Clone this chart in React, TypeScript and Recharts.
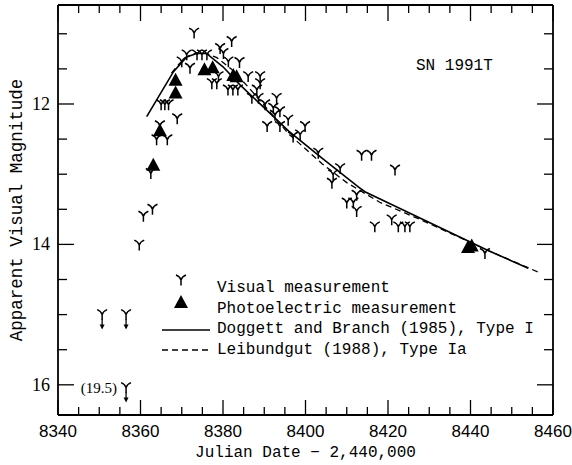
import React from "react";
import { ComposedChart, Line, Scatter, XAxis, YAxis, Legend, Label } from "recharts";

const MONO = '"Liberation Mono", "DejaVu Sans Mono", monospace';
const SERIF = '"Liberation Serif", "DejaVu Serif", serif';
const SANS = '"Liberation Sans", Arial, sans-serif';

// JD - 2,440,000 vs. apparent visual magnitude
const visualObs: [number, number][] = [
  [8359.7, 14.01], [8360.7, 13.6], [8362.9, 13.5], [8362.5, 12.99], [8363.9, 12.51],
  [8366.5, 12.51], [8364.7, 12.31], [8368.9, 12.21], [8365.0, 12.01], [8365.9, 12.01],
  [8366.8, 12.01], [8373.0, 10.99], [8371.2, 11.3], [8370.0, 11.4], [8372.0, 11.49],
  [8373.7, 11.3], [8374.9, 11.3], [8376.1, 11.3], [8377.3, 11.71], [8378.5, 11.71],
  [8378.9, 11.61], [8379.3, 11.21], [8380.1, 11.28], [8382.1, 11.11], [8381.3, 11.4],
  [8384.0, 11.41], [8381.2, 11.8], [8382.4, 11.8], [8383.6, 11.8], [8386.1, 11.61],
  [8389.0, 11.61], [8389.0, 11.71], [8388.2, 11.8], [8387.0, 11.92], [8388.6, 11.92],
  [8393.0, 11.92], [8390.2, 12.01], [8392.2, 12.06], [8393.8, 12.11], [8392.6, 12.16],
  [8395.8, 12.23], [8390.7, 12.32], [8393.8, 12.32], [8399.9, 12.32], [8397.0, 12.47],
  [8398.7, 12.44], [8403.1, 12.7], [8408.4, 12.92], [8406.7, 13.01], [8406.4, 13.13],
  [8413.6, 12.73], [8416.0, 12.73], [8412.4, 13.3], [8410.0, 13.41], [8411.6, 13.41],
  [8412.4, 13.53], [8421.7, 12.94], [8416.8, 13.75], [8420.9, 13.65], [8422.5, 13.75],
  [8424.1, 13.75], [8425.3, 13.75], [8443.5, 14.13],
];

// upper limits (drawn with arrows); last one is really 19.5
const limitObs: [number, number, string][] = [
  [8350.7, 15.0, ""],
  [8356.5, 15.0, ""],
  [8356.5, 16.04, "(19.5)"],
];

const photoObs: [number, number][] = [
  [8363.1, 12.88], [8364.7, 12.39], [8368.5, 11.85], [8368.5, 11.67], [8375.5, 11.52],
  [8377.5, 11.49], [8382.5, 11.6], [8383.3, 11.62], [8439.4, 14.05], [8440.3, 14.03],
];

// Doggett and Branch (1985), Type I
const doggettCurve: [number, number][] = [
  [8361.5, 12.18], [8368, 11.54], [8371.2, 11.33], [8373.6, 11.28], [8376, 11.28],
  [8380, 11.47], [8384, 11.72], [8396, 12.39], [8404, 12.77], [8412.8, 13.18],
  [8414.4, 13.25], [8444, 14.08], [8454, 14.34],
];

// Leibundgut (1988), Type Ia
const leibundgutCurve: [number, number][] = [
  [8367.5, 11.56], [8369.5, 11.42], [8371.5, 11.32], [8373.5, 11.27], [8376, 11.28],
  [8378.5, 11.34], [8382, 11.5], [8386, 11.75], [8396, 12.43], [8404, 12.85],
  [8410, 13.12], [8418, 13.4], [8428, 13.65], [8444, 14.08], [8457, 14.41],
];

const xTicks = [
  8340, 8345, 8350, 8355, 8360, 8365, 8370, 8375, 8380, 8385, 8390, 8395, 8400,
  8405, 8410, 8415, 8420, 8425, 8430, 8435, 8440, 8445, 8450, 8455, 8460,
];
const yTicks = [11, 11.5, 12, 12.5, 13, 13.5, 14, 14.5, 15, 15.5, 16];

const toPts = (arr: [number, number][]) => arr.map(([x, m]) => ({ x, m }));

function VisMark({ cx, cy }: { cx: number; cy: number }) {
  return (
    <path
      d={`M${cx - 5},${cy - 5} Q${cx - 1},${cy - 3.5} ${cx},${cy} Q${cx + 1},${cy - 3.5} ${cx + 5},${cy - 5} M${cx},${cy} L${cx},${cy + 5.5}`}
      fill="none"
      stroke="#000"
      strokeWidth={1.5}
    />
  );
}

function LimitMark({ cx, cy, note }: { cx: number; cy: number; note?: string }) {
  return (
    <g>
      <VisMark cx={cx} cy={cy} />
      <line x1={cx} x2={cx} y1={cy + 5} y2={cy + 12} stroke="#000" strokeWidth={1.3} />
      <polygon points={`${cx - 2.5},${cy + 10} ${cx + 2.5},${cy + 10} ${cx},${cy + 15}`} fill="#000" />
      {note ? (
        <text x={cx - 9} y={cy} textAnchor="end" dominantBaseline="central" fontFamily={SERIF} fontSize={15}>
          {note}
        </text>
      ) : null}
    </g>
  );
}

function PhotoMark({ cx, cy }: { cx: number; cy: number }) {
  return <polygon points={`${cx},${cy - 8} ${cx - 7},${cy + 5} ${cx + 7},${cy + 5}`} fill="#000" />;
}

const BottomTick = ({ x, y, payload }: any) => {
  const major = payload.value % 20 === 0;
  return (
    <g>
      <line x1={x} x2={x} y1={y} y2={y - (major ? 15 : 8)} stroke="#000" strokeWidth={1.3} />
      {major && (
        <text x={x} y={y + 22} textAnchor="middle" fontFamily={SANS} fontSize={17}>
          {payload.value}
        </text>
      )}
    </g>
  );
};

const TopTick = ({ x, y, payload }: any) => {
  const major = payload.value % 20 === 0;
  return <line x1={x} x2={x} y1={y} y2={y + (major ? 16 : 8)} stroke="#000" strokeWidth={1.3} />;
};

const LeftTick = ({ x, y, payload }: any) => {
  const major = payload.value % 2 === 0;
  return (
    <g>
      <line x1={x} x2={x + (major ? 16 : 9)} y1={y} y2={y} stroke="#000" strokeWidth={1.3} />
      {major && (
        <text x={x - 8} y={y} textAnchor="end" dominantBaseline="central" fontFamily={SERIF} fontSize={18}>
          {payload.value}
        </text>
      )}
    </g>
  );
};

const RightTick = ({ x, y, payload }: any) => {
  const major = payload.value % 2 === 0;
  return <line x1={x} x2={x - (major ? 16 : 9)} y1={y} y2={y} stroke="#000" strokeWidth={1.3} />;
};

const renderLegend = () => (
  <svg width={400} height={95} style={{ overflow: "visible" }}>
    <VisMark cx={31} cy={12} />
    <PhotoMark cx={31} cy={35} />
    <line x1={12} x2={60} y1={62} y2={62} stroke="#000" strokeWidth={1.5} />
    <line x1={12} x2={60} y1={82} y2={82} stroke="#000" strokeWidth={1.3} strokeDasharray="6 4" />
    {[
      "Visual measurement",
      "Photoelectric measurement",
      "Doggett and Branch (1985), Type I",
      "Leibundgut (1988), Type Ia",
    ].map((t, i) => (
      <text key={t} x={67} y={20 + i * 20.7} dominantBaseline="central" fontFamily={MONO} fontSize={16}>
        {t}
      </text>
    ))}
  </svg>
);

export default function App() {
  const visual = toPts(visualObs);
  const limits = limitObs.map(([x, m, note]) => ({ x, m, note }));
  const photo = toPts(photoObs);
  const doggett = toPts(doggettCurve);
  const leib = toPts(leibundgutCurve);

  return (
    <div style={{ position: "absolute", left: 0, top: 0, width: 572, height: 465, background: "#fff" }}>
      <ComposedChart width={572} height={465} margin={{ top: 0, right: 0, bottom: 0, left: 0 }}>
        <XAxis
          dataKey="x"
          type="number"
          domain={[8340, 8460]}
          ticks={xTicks}
          interval={0}
          allowDataOverflow
          height={50}
          tickLine={false}
          tickSize={0}
          tickMargin={0}
          tick={<BottomTick />}
          axisLine={{ stroke: "#000", strokeWidth: 1.8 }}
        >
          <Label
            content={({ viewBox }: any) => (
              <text
                x={viewBox.x + viewBox.width / 2}
                y={viewBox.y + 42}
                textAnchor="middle"
                fontFamily={MONO}
                fontSize={16}
              >
                Julian Date − 2,440,000
              </text>
            )}
          />
        </XAxis>
        <XAxis
          xAxisId="t"
          orientation="top"
          dataKey="x"
          type="number"
          domain={[8340, 8460]}
          ticks={xTicks}
          interval={0}
          allowDataOverflow
          height={5}
          tickLine={false}
          tickSize={0}
          tickMargin={0}
          tick={<TopTick />}
          axisLine={{ stroke: "#000", strokeWidth: 1.8 }}
        />
        <YAxis
          dataKey="m"
          type="number"
          reversed
          domain={[10.59, 16.43]}
          ticks={yTicks}
          interval={0}
          allowDataOverflow
          width={58}
          tickLine={false}
          tickSize={0}
          tickMargin={0}
          tick={<LeftTick />}
          axisLine={{ stroke: "#000", strokeWidth: 1.8 }}
        >
          <Label
            content={({ viewBox }: any) => {
              const cx = viewBox.x + 17;
              const cy = viewBox.y + viewBox.height / 2;
              return (
                <text
                  x={cx}
                  y={cy}
                  transform={`rotate(-90, ${cx}, ${cy})`}
                  textAnchor="middle"
                  dominantBaseline="central"
                  fontFamily={MONO}
                  fontSize={17.5}
                >
                  Apparent Visual Magnitude
                </text>
              );
            }}
          />
        </YAxis>
        <YAxis
          yAxisId="r"
          orientation="right"
          dataKey="m"
          type="number"
          reversed
          domain={[10.59, 16.43]}
          ticks={yTicks}
          interval={0}
          allowDataOverflow
          width={19}
          tickLine={false}
          tickSize={0}
          tickMargin={0}
          tick={<RightTick />}
          axisLine={{ stroke: "#000", strokeWidth: 1.8 }}
        />
        <Line
          data={doggett}
          dataKey="m"
          type="linear"
          stroke="#000"
          strokeWidth={1.6}
          dot={false}
          activeDot={false}
          isAnimationActive={false}
        />
        <Line
          data={leib}
          dataKey="m"
          type="linear"
          stroke="#000"
          strokeWidth={1.3}
          strokeDasharray="6 4"
          dot={false}
          activeDot={false}
          isAnimationActive={false}
        />
        <Scatter data={visual} dataKey="m" shape={(p: any) => <VisMark cx={p.cx} cy={p.cy} />} isAnimationActive={false} />
        <Scatter
          data={limits}
          dataKey="m"
          shape={(p: any) => <LimitMark cx={p.cx} cy={p.cy} note={p.payload.note} />}
          isAnimationActive={false}
        />
        <Scatter data={photo} dataKey="m" shape={(p: any) => <PhotoMark cx={p.cx} cy={p.cy} />} isAnimationActive={false} />
        <Legend
          layout="horizontal"
          verticalAlign="middle"
          align="center"
          content={renderLegend}
          wrapperStyle={{ left: 150, top: 268, width: 400, height: 95 }}
        />
      </ComposedChart>
      <div
        style={{
          position: "absolute",
          left: 416,
          top: 56,
          fontFamily: MONO,
          fontSize: 16,
          lineHeight: "20px",
          whiteSpace: "nowrap",
        }}
      >
        SN 1991T
      </div>
    </div>
  );
}
